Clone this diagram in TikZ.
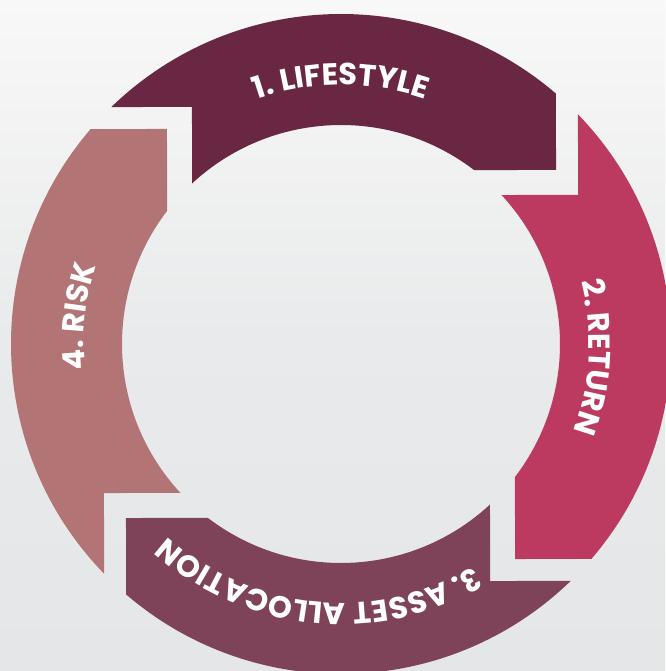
\documentclass[tikz,border=0pt]{standalone}
\usepackage{fontspec}
\newfontfamily\lab{Poppins}
\usetikzlibrary{decorations.text}
\definecolor{bgtop}{RGB}{248,248,248}
\definecolor{bgmid}{RGB}{233,234,235}
\definecolor{bgbot}{RGB}{229,230,231}
\definecolor{cLife}{RGB}{106,39,67}
\definecolor{cRet}{RGB}{188,58,96}
\definecolor{cAsset}{RGB}{126,67,89}
\definecolor{cRisk}{RGB}{178,116,116}
\newcommand{\ringseg}{%
  ({180-asin(237/330)}:330) arc[start angle={180-asin(237/330)}, end angle={acos(215/330)}, radius=330]
  -- (215,174) -- ({asin(174/219)}:219)
  arc[start angle={asin(174/219)}, end angle={acos(-149/219)}, radius=219]
  -- (-149,237) -- cycle}
\tikzset{
  curvedlabel/.style={decorate, decoration={text along path, text={|\lab\bfseries\fontsize{30.5}{30}\selectfont|#1}, text align=center, text color=white}}
}
\begin{document}
\begin{tikzpicture}[x=1pt,y=1pt]
\useasboundingbox (-341,-327) rectangle (324,344);
\shade[top color=bgtop, bottom color=bgbot, middle color=bgmid] (-341,-327) rectangle (324,344);
\fill[cLife] \ringseg;
\begin{scope}[rotate=-90]\fill[cRet] \ringseg;\end{scope}
\begin{scope}[rotate=-180]\fill[cAsset] \ringseg;\end{scope}
\begin{scope}[rotate=90]\fill[cRisk] \ringseg;\end{scope}
\path[curvedlabel={1. LIFESTYLE}] (150:259) arc[start angle=150, end angle=30, radius=259];
\path[curvedlabel={2. RETURN}] (57:248) arc[start angle=57, end angle=-63, radius=248];
\path[curvedlabel={3. ASSET ALLOCATION}] (-15.6:259) arc[start angle=-15.6, end angle=-175.6, radius=259];
\path[curvedlabel={4. RISK}] (234:257) arc[start angle=234, end angle=114, radius=257];
\end{tikzpicture}
\end{document}
